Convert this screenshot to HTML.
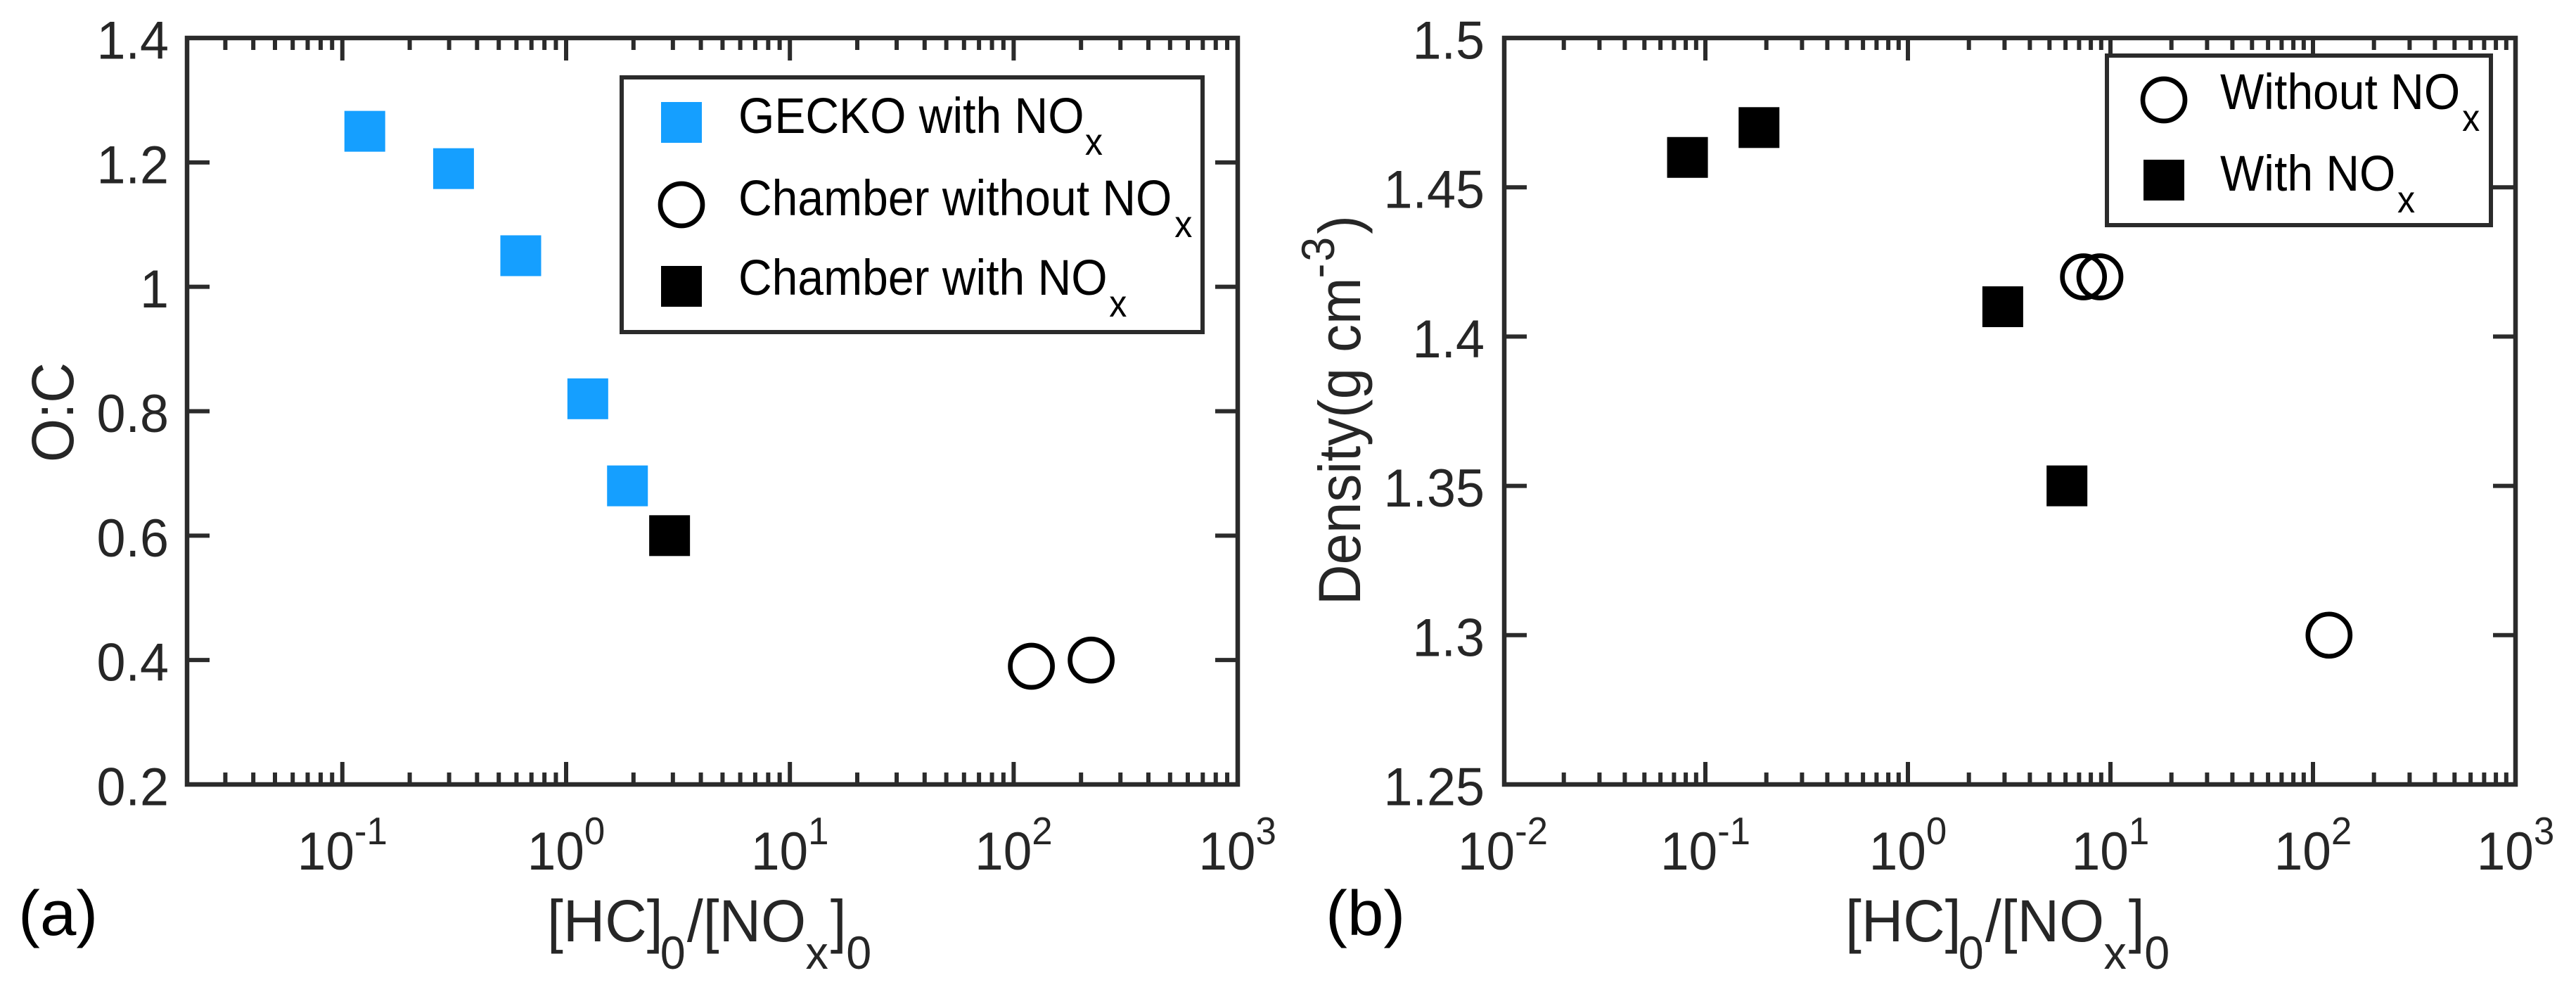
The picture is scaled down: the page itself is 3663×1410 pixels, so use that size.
<!DOCTYPE html>
<html>
<head>
<meta charset="utf-8">
<title>O:C and density versus HC/NOx ratio</title>
<style>
html,body{margin:0;padding:0;background:#fff;width:3663px;height:1410px;overflow:hidden}
svg{display:block;font-family:"Liberation Sans",Arial,sans-serif}
.tick-text{font-size:76px;fill:#262626}
.sup-text{font-size:55px}
.leg{font-size:71px;fill:#000}
.leg-sub{font-size:54px}
.xlab{font-size:84px;fill:#262626}
.xlab-sub{font-size:66px}
.ylab{font-size:84px;fill:#262626}
.ylab-sup{font-size:66px}
.panel{font-size:90px;fill:#000}
</style>
</head>
<body>
<svg id="figure" xmlns="http://www.w3.org/2000/svg" width="3663" height="1410" viewBox="0 0 3663 1410">
  <rect width="3663" height="1410" fill="#fff"/>
  <g id="layerA"></g>
  <g id="layerB"></g>

  <text class="ylab" transform="translate(104,657) rotate(-90) scale(.95,1)">O:C</text>
  <text class="xlab" transform="translate(778,1338) scale(.98,1)"><tspan x="0" y="0">[HC]</tspan><tspan class="xlab-sub" x="164" y="39">0</tspan><tspan x="203" y="0">/[NO</tspan><tspan class="xlab-sub" x="375" y="39">x</tspan><tspan x="411" y="0">]</tspan><tspan class="xlab-sub" x="434" y="39">0</tspan></text>
  <text class="panel" transform="translate(26,1329) scale(1.03,1)">(a)</text>

  <text class="ylab" transform="translate(1934,860) rotate(-90) scale(.95,1)"><tspan x="0" y="0">Density(g cm</tspan><tspan class="ylab-sup" x="489" y="-37">-</tspan><tspan class="ylab-sup" x="514" y="-37">3</tspan><tspan x="555" y="0">)</tspan></text>
  <text class="xlab" transform="translate(2624,1338) scale(.98,1)"><tspan x="0" y="0">[HC]</tspan><tspan class="xlab-sub" x="164" y="39">0</tspan><tspan x="203" y="0">/[NO</tspan><tspan class="xlab-sub" x="375" y="39">x</tspan><tspan x="411" y="0">]</tspan><tspan class="xlab-sub" x="434" y="39">0</tspan></text>
  <text class="panel" transform="translate(1885,1329) scale(1.03,1)">(b)</text>

  <g>
    <rect x="884" y="110" width="826" height="362" fill="#fff" stroke="#2b2b2b" stroke-width="6"/>
    <rect x="940" y="145" width="58" height="58" fill="#159fff"/>
    <text class="leg" transform="translate(1050,189) scale(.93,1)">GECKO with NO<tspan class="leg-sub" x="530" y="31">x</tspan></text>
    <circle cx="969" cy="291" r="30" fill="#fff" stroke="#000" stroke-width="6.7"/>
    <text class="leg" transform="translate(1050,306) scale(.93,1)">Chamber without NO<tspan class="leg-sub" x="667" y="31">x</tspan></text>
    <rect x="940" y="378" width="58" height="58" fill="#000"/>
    <text class="leg" transform="translate(1050,419) scale(.93,1)">Chamber with NO<tspan class="leg-sub" x="567" y="31">x</tspan></text>
  </g>

  <g>
    <rect x="2996" y="79" width="546" height="241" fill="#fff" stroke="#2b2b2b" stroke-width="6"/>
    <circle cx="3077" cy="142" r="30" fill="#fff" stroke="#000" stroke-width="6.7"/>
    <text class="leg" transform="translate(3157,155) scale(.93,1)">Without NO<tspan class="leg-sub" x="370" y="31">x</tspan></text>
    <rect x="3048" y="227" width="58" height="58" fill="#000"/>
    <text class="leg" transform="translate(3157,271) scale(.93,1)">With NO<tspan class="leg-sub" x="271" y="31">x</tspan></text>
  </g>
</svg>

<script>
var aGeckoX = [0.126, 0.314, 0.627, 1.25, 1.88];
var aGeckoY = [1.25, 1.19, 1.05, 0.82, 0.68];
var aChamberNoNoxX = [120, 222];
var aChamberNoNoxY = [0.39, 0.40];
var aChamberNoxX = [2.9];
var aChamberNoxY = [0.60];
var aYTicks = [0.2, 0.4, 0.6, 0.8, 1, 1.2, 1.4];
var aYTickLabels = ['0.2', '0.4', '0.6', '0.8', '1', '1.2', '1.4'];
var aXExponents = ['-1', '0', '1', '2', '3'];

var bNoNoxX = [7.36, 8.87, 120];
var bNoNoxY = [1.42, 1.42, 1.30];
var bNoxX = [0.0816, 0.184, 2.94, 6.1];
var bNoxY = [1.46, 1.47, 1.41, 1.35];
var bYTicks = [1.25, 1.3, 1.35, 1.4, 1.45, 1.5];
var bYTickLabels = ['1.25', '1.3', '1.35', '1.4', '1.45', '1.5'];
var bXExponents = ['-2', '-1', '0', '1', '2', '3'];

var NS = 'http://www.w3.org/2000/svg';
var AXIS = '#2b2b2b';

function mk(parent, tag, attrs) {
  var el = document.createElementNS(NS, tag);
  for (var k in attrs) el.setAttribute(k, attrs[k]);
  parent.appendChild(el);
  return el;
}

function logScale(xmin, d0px, decadePx) {
  return function (v) { return d0px + (Math.log10(v) - xmin) * decadePx; };
}
function linScale(v0, v1, p0, p1) {
  return function (v) { return p0 + (v - v0) / (v1 - v0) * (p1 - p0); };
}

function drawAxes(layer, prefix, cfg) {
  var L = cfg.left, R = cfg.right, T = cfg.top, B = cfg.bottom;
  var x = cfg.x, y = cfg.y;
  var minLog = Math.floor(cfg.xMinLog), maxLog = Math.ceil(cfg.xMaxLog);
  for (var d = minLog; d < maxLog; d++) {
    for (var m = 1; m < 10; m++) {
      var v = m * Math.pow(10, d);
      var px = x(v);
      if (px < L + 4 || px > R - 4) continue;
      var len = m === 1 ? 32 : 17;
      var t1 = mk(layer, 'line', {x1: px, x2: px, y1: B, y2: B - len, stroke: AXIS, 'stroke-width': 6});
      
      
      var t2 = mk(layer, 'line', {x1: px, x2: px, y1: T, y2: T + len, stroke: AXIS, 'stroke-width': 6});
      
      
    }
  }
  cfg.yTicks.forEach(function (v, i) {
    var py = y(v);
    var a = mk(layer, 'line', {x1: L, x2: L + 32, y1: py, y2: py, stroke: AXIS, 'stroke-width': 6});
    
    
    var b = mk(layer, 'line', {x1: R, x2: R - 32, y1: py, y2: py, stroke: AXIS, 'stroke-width': 6});
    
    
    var lab = mk(layer, 'text', {transform: 'translate(' + cfg.yLabelX + ',' + (py + 29.5) + ') scale(.97,1)', 'text-anchor': 'end', 'class': 'tick-text'});
    
    
    lab.textContent = cfg.yLabels[i];
  });
  cfg.xExps.forEach(function (e) {
    var px = x(Math.pow(10, Number(e)));
    var lab = mk(layer, 'text', {transform: 'translate(' + px + ',1236) scale(.96,1)', 'text-anchor': 'middle', 'class': 'tick-text'});
    
    
    lab.appendChild(document.createTextNode('10'));
    var s = mk(lab, 'tspan', {dy: -36, 'class': 'sup-text'});
    s.textContent = e;
  });
  var frame = mk(layer, 'rect', {x: L, y: T, width: R - L, height: B - T, fill: 'none', stroke: AXIS, 'stroke-width': 6.5});
  
  
}

function drawSquares(layer, name, xs, ys, x, y, color) {
  xs.forEach(function (v, i) {
    var s = mk(layer, 'rect', {x: x(v) - 29, y: y(ys[i]) - 29, width: 58, height: 58, fill: color});
    
    
  });
}
function drawCircles(layer, name, xs, ys, x, y) {
  xs.forEach(function (v, i) {
    var c = mk(layer, 'circle', {cx: x(v), cy: y(ys[i]), r: 30, fill: 'none', stroke: '#000', 'stroke-width': 6.7});
    
    
  });
}

var ax = logScale(0, 805, 318.2);
var ay = linScale(0.2, 1.4, 1115, 54);
var layerA = document.getElementById('layerA');
drawAxes(layerA, 'panel-a', {left: 266, right: 1760, top: 54, bottom: 1115, x: ax, y: ay,
  xMinLog: -2, xMaxLog: 3, yTicks: aYTicks, yLabels: aYTickLabels, xExps: aXExponents, yLabelX: 240});
drawSquares(layerA, 'gecko-with-nox-point', aGeckoX, aGeckoY, ax, ay, '#159fff');
drawSquares(layerA, 'chamber-with-nox-point', aChamberNoxX, aChamberNoxY, ax, ay, '#000');
drawCircles(layerA, 'chamber-without-nox-point', aChamberNoNoxX, aChamberNoNoxY, ax, ay);

var bx = logScale(0, 2713, 288);
var by = linScale(1.25, 1.5, 1115, 54);
var layerB = document.getElementById('layerB');
drawAxes(layerB, 'panel-b', {left: 2139, right: 3577, top: 54, bottom: 1115, x: bx, y: by,
  xMinLog: -2, xMaxLog: 3, yTicks: bYTicks, yLabels: bYTickLabels, xExps: bXExponents, yLabelX: 2111});
drawSquares(layerB, 'with-nox-point', bNoxX, bNoxY, bx, by, '#000');
drawCircles(layerB, 'without-nox-point', bNoNoxX, bNoNoxY, bx, by);
</script>
</body>
</html>
